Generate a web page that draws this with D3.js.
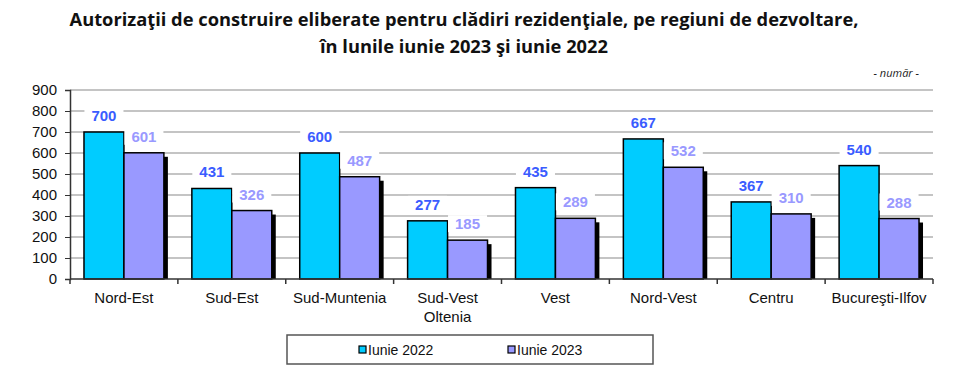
<!DOCTYPE html>
<html>
<head>
<meta charset="utf-8">
<script src="https://cdn.jsdelivr.net/npm/d3@7"></script>
<style>
  body { margin: 0; background: #fff; }
  svg { display: block; }
</style>
</head>
<body>
<div id="chart"></div>
<script>
const regions = ["Nord-Est", "Sud-Est", "Sud-Muntenia", "Sud-Vest\nOltenia", "Vest", "Nord-Vest", "Centru", "Bucureşti-Ilfov"];
const series = ["Iunie 2022", "Iunie 2023"];
const iunie2022 = [700, 431, 600, 277, 435, 667, 367, 540];
const iunie2023 = [601, 326, 487, 185, 289, 532, 310, 288];
const yTicks = [0, 100, 200, 300, 400, 500, 600, 700, 800, 900];

const width = 963, height = 376;
const padding = {left: 70, right: 30, top: 90, bottom: 97};
const barColors = ["#00ccff", "#9999ff"];
const labelColors = ["#3a5cff", "#9999ff"];

const svg = d3.select('#chart').append('svg')
    .attr('width', width)
    .attr('height', height);

// title
const title = svg.append('text')
    .attr('x', 464).attr('text-anchor', 'middle')
    .style('font-family', '"Open Sans", sans-serif')
    .style('font-weight', 'bold')
    .style('font-size', '18.3px')
    .attr('fill', '#111');
title.append('tspan').attr('x', 464).attr('y', 26)
    .text('Autorizaţii de construire eliberate pentru clădiri rezidenţiale, pe regiuni de dezvoltare,');
title.append('tspan').attr('x', 464).attr('y', 53)
    .text('în lunile iunie 2023 şi iunie 2022');

svg.append('text')
    .attr('x', 919).attr('y', 77)
    .attr('text-anchor', 'end')
    .style('font-family', '"Open Sans", sans-serif')
    .style('font-style', 'italic')
    .style('font-size', '11px')
    .attr('fill', '#222')
    .text('- număr -');

const x0 = d3.scaleBand()
    .domain(d3.range(regions.length))
    .range([padding.left, width - padding.right])
    .padding(0);
const x1 = d3.scaleBand()
    .domain(d3.range(series.length))
    .range([0, x0.bandwidth()])
    .paddingInner(0)
    .paddingOuter(0.35);
const y = d3.scaleLinear()
    .domain([0, 900])
    .range([height - padding.bottom, padding.top]);

// gridlines
svg.append('g')
    .selectAll('line')
    .data(yTicks.filter(d => d > 0))
    .enter().append('line')
    .attr('x1', padding.left).attr('x2', width - padding.right)
    .attr('y1', d => y(d)).attr('y2', d => y(d))
    .attr('stroke', '#c4c4c4')
    .attr('stroke-width', 2);

// y axis
const yAxis = svg.append('g')
    .attr('transform', 'translate(' + padding.left + ',0)')
    .call(d3.axisLeft(y).tickValues(yTicks).tickSize(5).tickPadding(8));
yAxis.select('.domain').attr('stroke', '#333').attr('stroke-width', 1.5);
yAxis.selectAll('.tick line').attr('stroke', '#333');
yAxis.selectAll('text')
    .style('font-family', '"Liberation Sans", Arial, sans-serif')
    .style('font-size', '15px')
    .attr('fill', '#111');

const data = regions.map((r, i) => ({i: i, vals: [iunie2022[i], iunie2023[i]]}));

const groups = svg.selectAll('.grp')
    .data(data)
    .enter().append('g')
    .attr('class', 'grp')
    .attr('transform', d => 'translate(' + x0(d.i) + ',0)');

const base = y(0);
const sh = 4;

// shadow behind the group (only the last bar's shows)
groups.append('rect')
    .attr('class', 'shadow')
    .attr('x', x1(1) + sh)
    .attr('y', d => y(d.vals[1]) + sh)
    .attr('width', x1.bandwidth())
    .attr('height', d => base - y(d.vals[1]) - sh)
    .attr('fill', '#000');

// bars
groups.selectAll('.bar')
    .data(d => d.vals.map((v, k) => ({v: v, k: k})))
    .enter().append('rect')
    .attr('class', 'bar')
    .attr('x', d => x1(d.k))
    .attr('y', d => y(d.v))
    .attr('width', x1.bandwidth())
    .attr('height', d => base - y(d.v))
    .attr('fill', d => barColors[d.k])
    .attr('stroke', '#000')
    .attr('stroke-width', 1.5);

// value labels with white boxes
groups.each(function(d) {
    const g = d3.select(this);
    d.vals.forEach((v, k) => {
        const lbl = g.append('g');
        const t = lbl.append('text')
            .attr('x', x1(k) + x1.bandwidth() / 2)
            .attr('y', y(v) - 11)
            .attr('text-anchor', 'middle')
            .style('font-family', '"Liberation Sans", Arial, sans-serif')
            .style('font-weight', 'bold')
            .style('font-size', '15px')
            .attr('fill', labelColors[k])
            .text(v);
        const bb = t.node().getBBox();
        lbl.insert('rect', 'text')
            .attr('x', bb.x - 7).attr('y', bb.y)
            .attr('width', bb.width + 14).attr('height', bb.height)
            .attr('fill', '#fff');
    });
});

// x axis
const xAxis = svg.append('g')
    .attr('transform', 'translate(0,' + base + ')');
xAxis.append('line')
    .attr('x1', padding.left).attr('x2', width - padding.right)
    .attr('stroke', '#333').attr('stroke-width', 1.5);
xAxis.selectAll('.tk')
    .data(d3.range(regions.length + 1))
    .enter().append('line')
    .attr('x1', i => padding.left + i * x0.step())
    .attr('x2', i => padding.left + i * x0.step())
    .attr('y1', 0).attr('y2', 5)
    .attr('stroke', '#333').attr('stroke-width', 1.5);
xAxis.selectAll('.xl')
    .data(regions)
    .enter().append('text')
    .attr('text-anchor', 'middle')
    .attr('transform', (r, i) => 'translate(' + (x0(i) + x0.bandwidth() / 2) + ',24)')
    .style('font-family', '"Liberation Sans", Arial, sans-serif')
    .style('font-size', '15px')
    .attr('fill', '#111')
    .each(function(r) {
        r.split('\n').forEach((line, j) => {
            d3.select(this).append('tspan')
                .attr('x', 0).attr('dy', j === 0 ? 0 : 19)
                .text(line);
        });
    });

// legend
const legend = svg.append('g');
legend.append('rect')
    .attr('x', 287).attr('y', 335)
    .attr('width', 366).attr('height', 29)
    .attr('fill', '#fff')
    .attr('stroke', '#555').attr('stroke-width', 1.5);
const legX = [359, 508];
series.forEach((s, k) => {
    legend.append('rect')
        .attr('x', legX[k]).attr('y', 346)
        .attr('width', 7).attr('height', 7)
        .attr('fill', barColors[k])
        .attr('stroke', '#000').attr('stroke-width', 1.2);
    legend.append('text')
        .attr('x', legX[k] + 9).attr('y', 355)
        .style('font-family', '"Liberation Sans", Arial, sans-serif')
        .style('font-size', '14px')
        .attr('fill', '#111')
        .text(s);
});
</script>
</body>
</html>
